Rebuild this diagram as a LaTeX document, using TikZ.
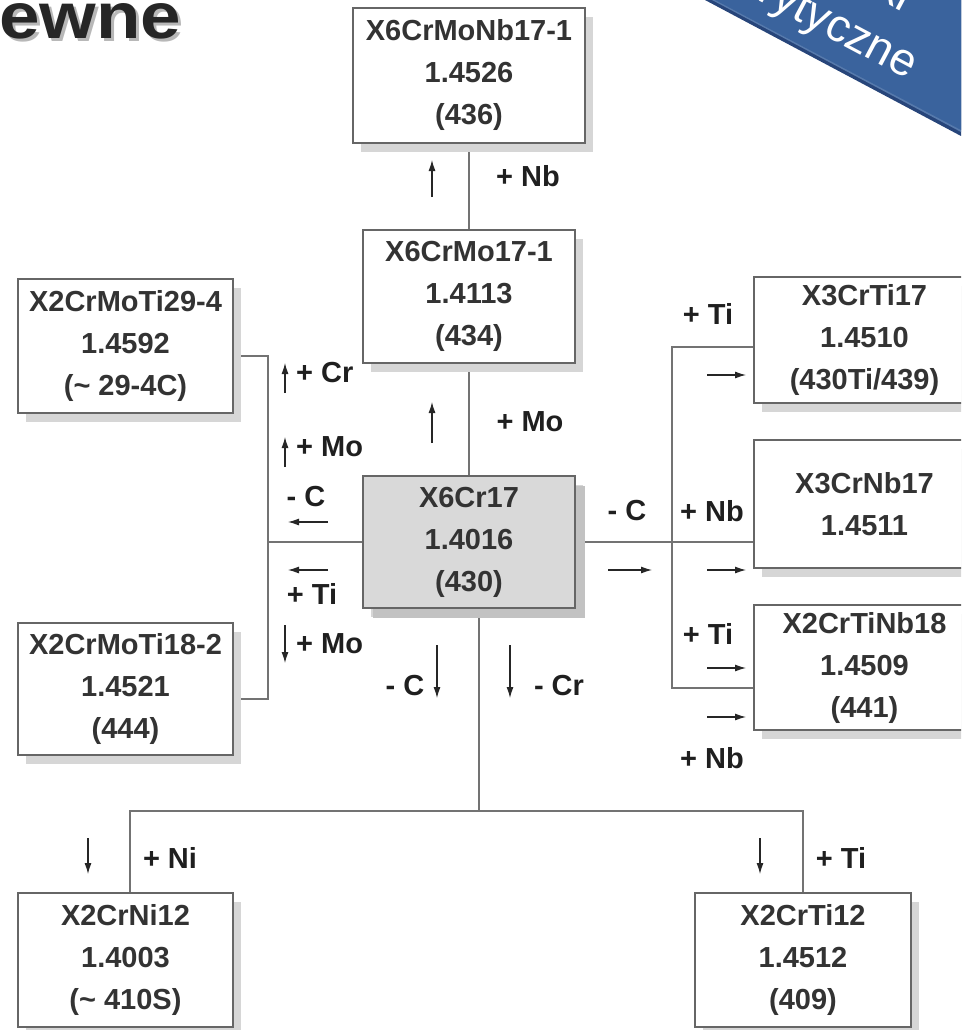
\documentclass[tikz,border=0pt]{standalone}
\usepackage{fontspec}
\setmainfont{Liberation Sans}
\usetikzlibrary{arrows.meta,shadows}
\pgfdeclarelayer{bg}
\pgfsetlayers{bg,main}
\definecolor{bannerblue}{HTML}{3A639D}
\definecolor{bannerdark}{HTML}{27457A}
\newcommand\boxfnt{\bfseries\fontsize{29}{42}\selectfont}
\newcommand\labfnt{\bfseries\fontsize{29}{34}\selectfont}
\newcommand\ttlfnt{\bfseries\fontsize{65}{65}\selectfont}
\tikzset{
  box/.style={draw=black!60, line width=1.1pt, fill=white, align=center,
    inner sep=0pt, font=\boxfnt, text=black!80,
    drop shadow={shadow xshift=8pt, shadow yshift=-9pt, fill=black!16, opacity=1}},
  mainbox/.style={box, fill=black!15,
    drop shadow={shadow xshift=10pt, shadow yshift=-10pt, fill=black!24, opacity=1}},
  lab/.style={font=\labfnt, text=black!88, inner sep=0pt},
  arr/.style={-{Latex[length=11pt,width=7pt]}, line width=1.1pt, draw=black!85},
  conn/.style={draw=black!55, line width=1.3pt},
  bantext/.style={anchor=base east, rotate=-28, inner sep=0pt, text=white, font=\fontsize{46}{46}\selectfont},
  ttl/.style={anchor=base west, inner sep=0pt, font=\ttlfnt},
}
\begin{document}
\begin{tikzpicture}[x=1pt,y=-1pt]
\useasboundingbox (0,0) rectangle (961,1030);
\clip (0,0) rectangle (961,1030);

% title fragment
\node[ttl, text=black!28] (titlesh) at (2,42) {\scalebox{1.12}[1]{ewne}};
\node[ttl, text=black!85] (title) at (-1,39) {\scalebox{1.12}[1]{ewne}};

% banner
\fill[bannerdark] (705,0) -- (961,136) -- (961,0) -- cycle;
\fill[bannerblue!85!white] (712,0) -- (961,132) -- (961,0) -- cycle;
\fill[bannerblue] (715,0) -- (961,130) -- (961,0) -- cycle;
\node[bantext] (ban1) at (903,12) {ki};
\node[bantext] (ban2) at (908,80) {rytyczne};

% boxes
\node[box, minimum width=232pt, minimum height=135pt] (b436) at (469,75.5) {X6CrMoNb17-1\\1.4526\\(436)};
\node[box, minimum width=212pt, minimum height=133pt] (b434) at (469,296.5) {X6CrMo17-1\\1.4113\\(434)};
\node[mainbox, minimum width=212pt, minimum height=132pt] (b430) at (469,542) {X6Cr17\\1.4016\\(430)};
\node[box, minimum width=215pt, minimum height=134pt] (b29) at (125.5,346) {X2CrMoTi29-4\\1.4592\\(\textasciitilde{} 29-4C)};
\node[box, minimum width=215pt, minimum height=132pt] (b18) at (125.5,689) {X2CrMoTi18-2\\1.4521\\(444)};
\node[box, minimum width=221pt, minimum height=126pt] (bti17) at (864.5,340) {X3CrTi17\\1.4510\\(430Ti/439)};
\node[box, minimum width=221pt, minimum height=128pt] (bnb17) at (864.5,504) {X3CrNb17\\1.4511};
\node[box, minimum width=221pt, minimum height=125pt] (btinb) at (864.5,667.5) {X2CrTiNb18\\1.4509\\(441)};
\node[box, minimum width=215pt, minimum height=134pt] (bni12) at (125.5,960) {X2CrNi12\\1.4003\\(\textasciitilde{} 410S)};
\node[box, minimum width=216pt, minimum height=134pt] (bti12) at (803,960) {X2CrTi12\\1.4512\\(409)};

% junction coordinates
\coordinate (lt) at (268,356);
\coordinate (lb) at (268,699);
\coordinate (rt) at (672,347);
\coordinate (rb) at (672,688);
\coordinate (dm) at (479,811);
\coordinate (dl) at (130,811);
\coordinate (dr) at (803,811);

\begin{pgfonlayer}{bg}
\draw[conn] (b436.south) -- (b434.north);
\draw[conn] (b434.south) -- (b430.north);
\draw[conn] (b430.west) -- (b430.west -| lt);
\draw[conn] (lt -| b29.east) -- (lt) -- (lb) -- (lb -| b18.east);
\draw[conn] (b430.east) -- (b430.east -| bnb17.west);
\draw[conn] (rt -| bti17.west) -- (rt) -- (rb) -- (rb -| btinb.west);
\draw[conn] (dm |- b430.south) -- (dm);
\draw[conn] (dl |- bni12.north) -- (dl) -- (dr) -- (bti12.north);
\end{pgfonlayer}

% labels and arrows: top
\draw[arr] (432,197) -- (432,160);
\node[lab] (lnb1) at (528,176) {+ Nb};
\draw[arr] (432,443) -- (432,402);
\node[lab] (lmo1) at (530,422) {+ Mo};

% left
\draw[arr] (285,393) -- (285,363);
\node[lab, anchor=west] (lcr) at (296,373) {+ Cr};
\draw[arr] (285,467) -- (285,437);
\node[lab, anchor=west] (lmo2) at (296,447) {+ Mo};
\node[lab] (lc1) at (306,497) {- C};
\draw[arr] (328,522) -- (288,522);
\draw[arr] (328,570) -- (288,570);
\node[lab] (lti1) at (312,594) {+ Ti};
\draw[arr] (285,625) -- (285,663);
\node[lab, anchor=west] (lmo3) at (296,644) {+ Mo};

% right
\node[lab] (lc2) at (627,511) {- C};
\draw[arr] (608,570) -- (652,570);
\node[lab] (lti2) at (708,314) {+ Ti};
\draw[arr] (707,375) -- (746,375);
\node[lab] (lnb2) at (712,511) {+ Nb};
\draw[arr] (707,570) -- (746,570);
\node[lab] (lti3) at (708,634) {+ Ti};
\draw[arr] (707,668) -- (746,668);
\draw[arr] (707,717) -- (746,717);
\node[lab] (lnb3) at (712,758) {+ Nb};

% down
\node[lab] (lc3) at (405,686) {- C};
\draw[arr] (437,645) -- (437,698);
\draw[arr] (510,645) -- (510,698);
\node[lab] (lcr2) at (559,686) {- Cr};
\draw[arr] (88,838) -- (88,874);
\node[lab] (lni) at (170,858) {+ Ni};
\draw[arr] (760,838) -- (760,874);
\node[lab] (lti4) at (841,858) {+ Ti};
\end{tikzpicture}
\end{document}
